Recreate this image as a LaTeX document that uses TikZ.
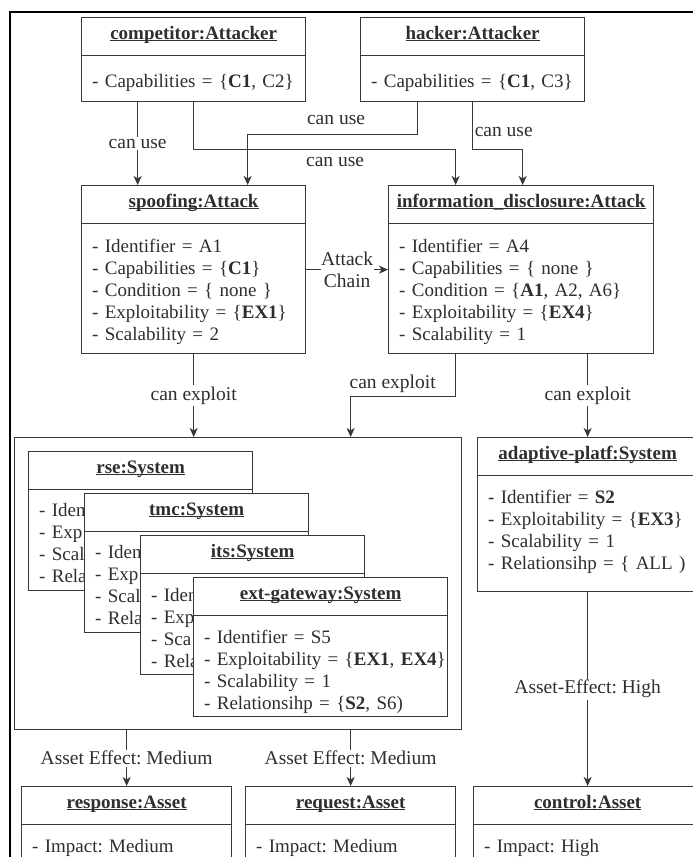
\documentclass[tikz,border=0pt]{standalone}
\usepackage{fontspec}
\setmainfont{Liberation Serif}
\usetikzlibrary{arrows.meta}

\definecolor{ink}{gray}{0.18}
\definecolor{edge}{gray}{0.22}

\tikzset{
  every node/.style={font=\fontsize{19.5}{22}\selectfont\frenchspacing, text=ink},
  box/.style={draw=edge, line width=1.3pt, fill=white, inner sep=0pt, anchor=north west},
  sepline/.style={draw=edge, line width=1pt},
  title/.style={anchor=base, inner sep=0pt, font=\fontsize{19}{22}\selectfont\bfseries\frenchspacing},
  attr/.style={anchor=base west, inner sep=0pt, align=left, text width=300pt,
    font=\fontsize{19}{22}\selectfont\frenchspacing},
  lbl/.style={fill=white, inner sep=1.5pt},
  plain/.style={inner sep=1.5pt},
  arr/.style={draw=edge, line width=1.2pt, -{Stealth[length=9pt,width=8pt,inset=2.5pt]}},
  frame/.style={draw=black, line width=2pt},
}

\newcommand\uln[1]{\underline{\smash{#1}}}

% object box: name, x, y, width, height, title, attributes, first attribute baseline offset
\newcommand\objbox[8]{%
  \node[box, minimum width=#4, minimum height=#5] (#1) at (#2,#3) {};
  \draw[sepline] ([yshift=-38pt]#1.north west) -- ([yshift=-38pt]#1.north east);
  \node[title] (#1-title) at ([yshift=-22pt]#1.north) {\uln{#6}};
  \node[attr] (#1-attr) at ([xshift=11pt,yshift=-#8pt]#1.north west) {#7};
}

\begin{document}
\begin{tikzpicture}[x=1pt, y=-1pt]
  \useasboundingbox (0,0) rectangle (693,857);
  \clip (0,0) rectangle (693,857);
  \fill[white] (0,0) rectangle (693,857);

  % outer frame
  \draw[frame] (710,12) -- (10,12) -- (10,870);

  % attackers
  \objbox{comp}{81}{17}{224}{84}{competitor:Attacker}{- Capabilities = \{\textbf{C1}, C2\}}{70}
  \objbox{hack}{360}{17}{224}{84}{hacker:Attacker}{- Capabilities = \{\textbf{C1}, C3\}}{70}

  % attacks
  \objbox{spoof}{81}{185}{224}{168}{spoofing:Attack}{%
    - Identifier = A1\\
    - Capabilities = \{\textbf{C1}\}\\
    - Condition = \{ none \}\\
    - Exploitability = \{\textbf{EX1}\}\\
    - Scalability = 2}{67}
  \objbox{info}{388}{185}{265}{168}{information\_disclosure:Attack}{%
    - Identifier = A4\\
    - Capabilities = \{ none \}\\
    - Condition = \{\textbf{A1}, A2, A6\}\\
    - Exploitability = \{\textbf{EX4}\}\\
    - Scalability = 1}{67}

  % stacked systems inside the group
  \node[box, minimum width=447, minimum height=292] (grp) at (14,437) {};
  \objbox{rse}{28}{451}{224}{139}{rse:System}{%
    - Iden\\ - Exp\\ - Scal\\ - Rela}{65}
  \objbox{tmc}{84}{493}{224}{139}{tmc:System}{%
    - Iden\\ - Exp\\ - Scal\\ - Rela}{65}
  \objbox{its}{140}{535}{224}{139}{its:System}{%
    - Iden\\ - Exp\\ - Sca\\ - Rela}{66}
  \objbox{ext}{193}{577}{254}{139}{ext-gateway:System}{%
    - Identifier = S5\\
    - Exploitability = \{\textbf{EX1}, \textbf{EX4}\}\\
    - Scalability = 1\\
    - Relationsihp = \{\textbf{S2}, S6)}{66}

  \objbox{adapt}{477}{437}{220}{154}{adaptive-platf:System}{%
    - Identifier = \textbf{S2}\\
    - Exploitability = \{\textbf{EX3}\}\\
    - Scalability = 1\\
    - Relationsihp = \{ ALL )}{66}

  % assets
  \objbox{resp}{21}{786}{210}{100}{response:Asset}{- Impact: Medium}{66}
  \objbox{req}{245}{786}{210}{100}{request:Asset}{- Impact: Medium}{66}
  \objbox{ctrl}{473}{786}{228}{100}{control:Asset}{- Impact: High}{66}

  % attackers use attacks
  \draw[arr] ([xshift=-56pt]comp.south) -- node[lbl] (cu1) {can use} ([xshift=-56pt]spoof.north);
  \draw[arr] ([xshift=-55pt]hack.south) -- ++(0,32)
     -| node[lbl, pos=0.24, above=8pt] (cu2) {can use} ([xshift=54pt]spoof.north);
  \draw[arr] (comp.south) -- ++(0,47)
     -| node[lbl, pos=0.27, below=6pt] (cu3) {can use} ([xshift=-65.5pt]info.north);
  \draw[arr] (hack.south) -- node[plain, anchor=west, pos=0.64] (cu4) {can use} ++(0,47)
     -| ([xshift=1.5pt]info.north);

  % attack chain
  \draw[arr] (spoof.east) -- node[lbl, align=center, inner sep=0.5pt] (chain) {Attack\\Chain} (info.west);

  % attacks exploit systems
  \draw[arr] (spoof.south) -- node[lbl] (ce1) {can exploit} (spoof.south |- grp.north);
  \draw[arr] ([xshift=-65.5pt]info.south) -- ++(0,42)
     -| node[lbl, pos=0.3, above=2pt] (ce2) {can exploit} ([xshift=112.5pt]grp.north);
  \draw[arr] (adapt.north |- info.south) -- node[lbl] (ce3) {can exploit} (adapt.north);

  % systems affect assets
  \draw[arr] (resp.north |- grp.south) -- node[lbl] (ae1) {Asset Effect: Medium} (resp.north);
  \draw[arr] (req.north |- grp.south) -- node[lbl] (ae2) {Asset Effect: Medium} (req.north);
  \draw[arr] (adapt.south) -- node[lbl] (ae3) {Asset-Effect: High} (ctrl.north);
\end{tikzpicture}
\end{document}
